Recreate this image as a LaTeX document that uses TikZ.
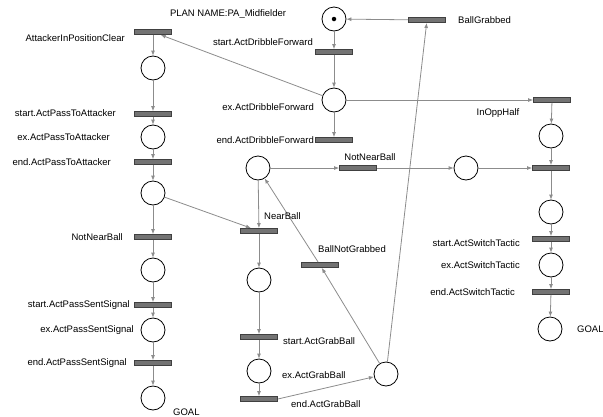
\documentclass[tikz,border=0pt]{standalone}
\usepackage{fontspec}
\setmainfont{Liberation Sans}
\usepackage{tikz}
\usetikzlibrary{arrows.meta}
\tikzset{>={Latex[length=5pt,width=4pt]}}
\colorlet{barcol}{black!55}
\colorlet{bardraw}{black!75}
\colorlet{arccol}{black!45}

\tikzset{
    place/.style={circle, draw=black, line width=0.8pt, fill=white, minimum size=24pt, inner sep=0pt},
    trans/.style={rectangle, draw=bardraw, line width=0.8pt, fill=barcol, minimum width=37pt, minimum height=5pt, inner sep=0pt},
    arc/.style={->, arccol, line width=0.8pt},
    lbl/.style={inner sep=0pt, font=\fontsize{9.5}{11}\selectfont}
}

\begin{document}
\begin{tikzpicture}[x=1pt, y=-1pt]
    \useasboundingbox (0,0) rectangle (603,416);
    \node[lbl] (title) at (228,14) {PLAN NAME:PA\_Midfielder};

    % left column
    \foreach \n/\y in {1/32, 2/114, 3/162, 4/237, 5/305, 6/363}
    {
        \node[trans] (lt\n) at (153,\y) {};
    }
    \foreach \n/\y in {1/68, 2/137, 3/193, 4/270, 5/330, 6/398}
    {
        \node[place] (lp\n) at (153,\y) {};
    }
    \foreach \n in {1,...,6}
    {
        \draw[arc] (lt\n) -- (lp\n);
    }
    \foreach \n [count=\m from 2] in {1,...,5}
    {
        \draw[arc] (lp\n) -- (lt\m);
    }
    \node[lbl, anchor=east] (l1) at (125,38) {AttackerInPositionClear};
    \node[lbl, anchor=east] (l2) at (116,113) {start.ActPassToAttacker};
    \node[lbl, anchor=east] (l3) at (110,137) {ex.ActPassToAttacker};
    \node[lbl, anchor=east] (l4) at (111,162) {end.ActPassToAttacker};
    \node[lbl, anchor=east] (l5) at (123,237) {NotNearBall};
    \node[lbl, anchor=east] (l6) at (130,305) {start.ActPassSentSignal};
    \node[lbl, anchor=east] (l7) at (134,330) {ex.ActPassSentSignal};
    \node[lbl, anchor=east] (l8) at (127,363) {end.ActPassSentSignal};
    \node[lbl, anchor=west] (l9) at (173,412) {GOAL};

    % dribble column
    \node[place] (start) at (334,19) {};
    \node[circle, fill=black, inner sep=0pt, minimum size=4.5pt] (token) at (start) {};
    \node[trans] (drstart) at (334,52) {};
    \node[place] (drex) at (334,100) {};
    \node[trans] (drend) at (334,140) {};
    \node[trans] (grabbed) at (427,20) {};
    \draw[arc] (grabbed) -- (start);
    \draw[arc] (start) -- (drstart);
    \draw[arc] (drstart) -- (drex);
    \draw[arc] (drex) -- (drend);
    \draw[arc] (drex) -- (lt1);
    \node[lbl, anchor=east] (d1) at (313,42) {start.ActDribbleForward};
    \node[lbl, anchor=east] (d2) at (314,107) {ex.ActDribbleForward};
    \node[lbl, anchor=east] (d3) at (314,140) {end.ActDribbleForward};
    \node[lbl, anchor=west] (d4) at (458,20) {BallGrabbed};

    % right column
    \node[trans] (opphalf) at (552,100) {};
    \node[place] (rp1) at (551,136) {};
    \node[trans] (rt1) at (551,168) {};
    \node[place] (rp2) at (551,212) {};
    \node[trans] (rt2) at (551,239) {};
    \node[place] (rp3) at (551,265) {};
    \node[trans] (rt3) at (551,292) {};
    \node[place] (rp4) at (550,329) {};
    \draw[arc] (drex) -- (opphalf);
    \draw[arc] (opphalf) -- (rp1);
    \draw[arc] (rp1) -- (rt1);
    \draw[arc] (rt1) -- (rp2);
    \draw[arc] (rp2) -- (rt2);
    \draw[arc] (rt2) -- (rp3);
    \draw[arc] (rp3) -- (rt3);
    \draw[arc] (rt3) -- (rp4);
    \node[lbl] (r1) at (498,113) {InOppHalf};
    \node[lbl, anchor=east] (r2) at (520,243) {start.ActSwitchTactic};
    \node[lbl, anchor=east] (r3) at (520,265) {ex.ActSwitchTactic};
    \node[lbl, anchor=east] (r4) at (515,292) {end.ActSwitchTactic};
    \node[lbl, anchor=west] (r5) at (577,329) {GOAL};

    % ball column
    \node[place] (mp1) at (258,168) {};
    \node[trans] (notnear) at (358,168) {};
    \node[place] (mp2) at (466,168) {};
    \node[trans] (near) at (259,231) {};
    \node[place] (mp3) at (259,280) {};
    \node[trans] (gst) at (259,337) {};
    \node[place] (gex) at (259,371) {};
    \node[trans] (gend) at (259,399) {};
    \node[place] (gout) at (386,374) {};
    \node[trans] (notgrabbed) at (320,265) {};
    \draw[arc] (mp1) -- (notnear);
    \draw[arc] (notnear) -- (mp2);
    \draw[arc] (mp2) -- (rt1);
    \draw[arc] (mp1) -- (near);
    \draw[arc] (lp3) -- (near);
    \draw[arc] (near) -- (mp3);
    \draw[arc] (mp3) -- (gst);
    \draw[arc] (gst) -- (gex);
    \draw[arc] (gex) -- (gend);
    \draw[arc] (gend.east) -- (gout);
    \draw[arc] (gout) -- (grabbed);
    \draw[arc] (gout) -- (notgrabbed);
    \draw[arc] (notgrabbed) -- (mp1);
    \node[lbl] (m1) at (370,157) {NotNearBall};
    \node[lbl, anchor=west] (m2) at (264,216) {NearBall};
    \node[lbl] (m3) at (352,249) {BallNotGrabbed};
    \node[lbl, anchor=west] (m4) at (283,341) {start.ActGrabBall};
    \node[lbl, anchor=west] (m5) at (282,375) {ex.ActGrabBall};
    \node[lbl, anchor=west] (m6) at (291,404) {end.ActGrabBall};
\end{tikzpicture}
\end{document}
